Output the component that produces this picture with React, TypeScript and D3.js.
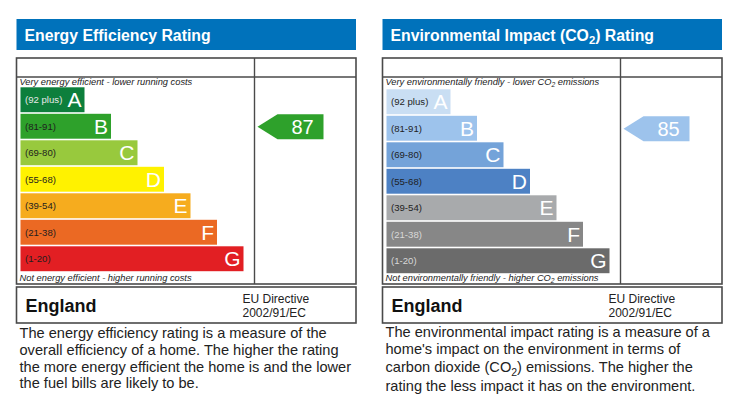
import * as d3 from 'd3';

const letters = ['A', 'B', 'C', 'D', 'E', 'F', 'G'];
const ranges = ['(92 plus)', '(81-91)', '(69-80)', '(55-68)', '(39-54)', '(21-38)', '(1-20)'];
const minScores = [92, 81, 69, 55, 39, 21, 1];

const energyColors = ['#0d7f3c', '#2ea12b', '#98c93d', '#fff200', '#f6ac1e', '#eb6923', '#e21f23'];
const energyLabelColors = ['#e8e8e8', '#1e1e1e', '#1e1e1e', '#1e1e1e', '#1e1e1e', '#1e1e1e', '#1e1e1e'];
const envColors = ['#c9def3', '#9dc3ec', '#74a3d9', '#4d81c4', '#a8aaac', '#878787', '#6b6b6b'];
const envLabelColors = ['#1e1e1e', '#1e1e1e', '#1e1e1e', '#1e1e1e', '#1e1e1e', '#d8d8d8', '#d8d8d8'];

const energyRating = 87;
const envRating = 85;

const energyText = [
  'The energy efficiency rating is a measure of the',
  'overall efficiency of a home. The higher the rating',
  'the more energy efficient the home is and the lower',
  'the fuel bills are likely to be.',
];
const envText = [
  "The environmental impact rating is a measure of a",
  "home's impact on the environment in terms of",
  'carbon dioxide (CO2) emissions. The higher the',
  'rating the less impact it has on the environment.',
];

const FONT = '"Liberation Sans", Arial, Helvetica, sans-serif';

// renders "CO2" with a subscript 2
function WithSub({ text, size }: { text: string; size: number }) {
  const parts = text.split('CO2');
  const shift = size * 0.25;
  const out: JSX.Element[] = [];
  parts.forEach((p, i) => {
    if (i > 0) {
      out.push(
        <tspan key={`s${i}`} dy={shift} fontSize={size * 0.72}>
          2
        </tspan>
      );
    }
    const str = p + (i < parts.length - 1 ? 'CO' : '');
    out.push(
      <tspan key={`t${i}`} dy={i > 0 ? -shift : undefined}>
        {str}
      </tspan>
    );
  });
  return <>{out}</>;
}

type PanelProps = {
  x0: number;
  title: string;
  topNote: string;
  bottomNote: string;
  colors: string[];
  labelColors: string[];
  rating: number;
  barTop: number;
  text: string[];
  textBase: number[];
};

function Panel({ x0, title, topNote, bottomNote, colors, labelColors, rating, barTop, text, textBase }: PanelProps) {
  const W = 339.5;
  const divX = x0 + 238;
  const step = 26.5;
  const y = d3
    .scaleBand<string>()
    .domain(letters)
    .range([barTop, barTop + step * letters.length])
    .paddingInner(0.06)
    .paddingOuter(0.03);
  const w = d3.scaleLinear().domain([0, letters.length - 1]).range([64, 223]);
  const bandIdx = minScores.findIndex((m) => rating >= m);
  const bh = y.bandwidth();
  const ay = y(letters[bandIdx])! + 0.5;
  const tipX = divX + 3;
  const bodyX = tipX + 20;
  const endX = tipX + 66;

  return (
    <g fontFamily={FONT}>
      <rect x={x0} y={19} width={W} height={31} fill="#0072bb" />
      <text x={x0 + 8} y={40.5} fill="#fff" fontSize={15.8} fontWeight="bold">
        <WithSub text={title} size={15.8} />
      </text>

      <rect x={x0} y={58} width={W} height={226} fill="none" stroke="#4a4a4a" strokeWidth={1.6} />
      <line x1={x0} x2={x0 + W} y1={77} y2={77} stroke="#4a4a4a" strokeWidth={1.4} />
      <line x1={divX} x2={divX} y1={58} y2={284} stroke="#4a4a4a" strokeWidth={1.4} />

      <text x={x0 + 3} y={84.5} fontSize={9.3} fontStyle="italic" fill="#222">
        <WithSub text={topNote} size={9.3} />
      </text>
      <text x={x0 + 3} y={280.5} fontSize={9.3} fontStyle="italic" fill="#222">
        <WithSub text={bottomNote} size={9.3} />
      </text>

      {letters.map((l, i) => {
        const by = y(l)!;
        const bw = w(i);
        return (
          <g key={l}>
            <rect x={x0 + 4} y={by} width={bw} height={bh} fill={colors[i]} />
            <text x={x0 + 8.5} y={by + bh / 2} dy="0.35em" fontSize={9.6} fill={labelColors[i]}>
              {ranges[i]}
            </text>
            <text
              x={x0 + 4 + bw - 3}
              y={by + bh / 2}
              dy="0.36em"
              textAnchor="end"
              fontSize={21}
              fill="#fff"
            >
              {l}
            </text>
          </g>
        );
      })}

      <path
        d={`M${tipX},${ay + bh / 2} L${bodyX},${ay} L${endX},${ay} L${endX},${ay + bh} L${bodyX},${ay + bh} Z`}
        fill={colors[bandIdx]}
      />
      <text x={(bodyX + endX) / 2 + 2} y={ay + bh / 2} dy="0.36em" textAnchor="middle" fontSize={20} fill="#fff">
        {rating}
      </text>

      <rect x={x0} y={287} width={W} height={36} fill="none" stroke="#4a4a4a" strokeWidth={1.6} />
      <text x={x0 + 9} y={312} fontSize={18} fontWeight="bold" fill="#111">
        England
      </text>
      <text x={x0 + 226} y={302.5} fontSize={12} fill="#222">
        EU Directive
      </text>
      <text x={x0 + 226} y={316.5} fontSize={12} fill="#222">
        2002/91/EC
      </text>

      {text.map((t, i) => (
        <text key={i} x={x0 + 3} y={textBase[i]} fontSize={14.6} fill="#222">
          <WithSub text={t} size={14.6} />
        </text>
      ))}
    </g>
  );
}

export default function App() {
  return (
    <svg
      width={739}
      height={413}
      style={{ position: 'absolute', left: 0, top: 0, background: '#fff' }}
    >
      <rect width={739} height={413} fill="#fff" />
      <Panel
        x0={16.5}
        title="Energy Efficiency Rating"
        topNote="Very energy efficient - lower running costs"
        bottomNote="Not energy efficient - higher running costs"
        colors={energyColors}
        labelColors={energyLabelColors}
        rating={energyRating}
        barTop={86.5}
        text={energyText}
        textBase={[338, 355, 372, 388]}
      />
      <Panel
        x0={382.5}
        title="Environmental Impact (CO2) Rating"
        topNote="Very environmentally friendly - lower CO2 emissions"
        bottomNote="Not environmentally friendly - higher CO2 emissions"
        colors={envColors}
        labelColors={envLabelColors}
        rating={envRating}
        barTop={88.5}
        text={envText}
        textBase={[337, 354, 372, 391]}
      />
    </svg>
  );
}
